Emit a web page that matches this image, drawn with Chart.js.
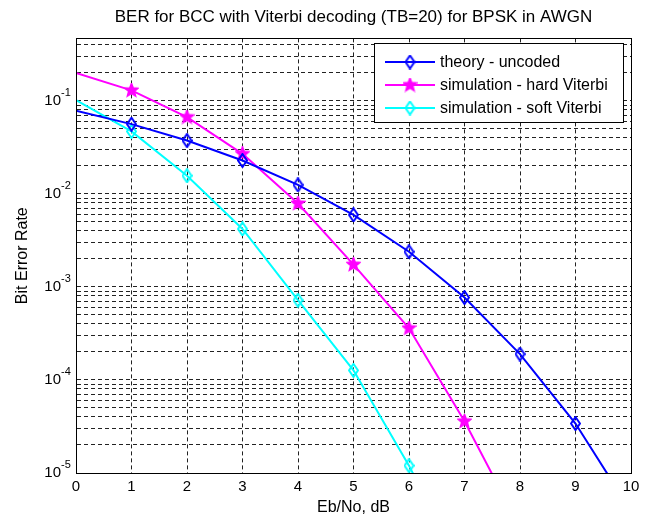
<!DOCTYPE html>
<html>
<head>
<meta charset="utf-8">
<title>BER for BCC with Viterbi decoding</title>
<script src="https://cdn.jsdelivr.net/npm/chart.js@4"></script>
<style>
  html, body { margin: 0; padding: 0; background: #fff; }
</style>
</head>
<body>
<canvas id="ber" width="648" height="517"></canvas>
<script>
  // values
  const ebno = [0, 1, 2, 3, 4, 5, 6, 7, 8, 9, 10];
  const berTheory = [0.0786, 0.0563, 0.0375, 0.0229, 0.0125, 0.00595, 0.00239, 0.00077, 0.00019, 0.000034, 0.0000039];
  const berHard = [0.2, 0.13, 0.067, 0.027, 0.0079, 0.00174, 0.00036, 0.000036, 0.0000026];
  const berSoft = [0.102, 0.047, 0.0157, 0.0042, 0.00072, 0.000127, 0.000012, 0.0000008];
  const seriesNames = ["theory - uncoded", "simulation - hard Viterbi", "simulation - soft Viterbi"];
  const yDecades = [-5, -4, -3, -2, -1];
  const yMantissas = [1, 2, 3, 4, 5, 6, 7, 8, 9];
  const yMin = 1e-5;
  const yMax = 0.47;

  const FONT = '"Liberation Sans", Arial, sans-serif';
  const BLUE = "#0000ff";
  const MAGENTA = "#ff00ff";
  const CYAN = "#00ffff";

  Chart.defaults.color = "#000";
  Chart.defaults.font.family = FONT;

  function diamond(color) {
    const c = document.createElement("canvas");
    c.width = 11;
    c.height = 15;
    const g = c.getContext("2d");
    g.strokeStyle = color;
    g.lineWidth = 2;
    g.beginPath();
    g.moveTo(5.5, 1);
    g.lineTo(10, 7.5);
    g.lineTo(5.5, 14);
    g.lineTo(1, 7.5);
    g.closePath();
    g.stroke();
    return c;
  }

  function star(color) {
    const c = document.createElement("canvas");
    c.width = 15;
    c.height = 15;
    const g = c.getContext("2d");
    g.fillStyle = color;
    g.strokeStyle = color;
    g.lineWidth = 1.5;
    g.beginPath();
    for (let i = 0; i < 10; i++) {
      const r = i % 2 ? 3 : 7;
      const a = -Math.PI / 2 + (i * Math.PI) / 5;
      g.lineTo(7.5 + r * Math.cos(a), 7.5 + r * Math.sin(a));
    }
    g.closePath();
    g.fill();
    g.stroke();
    return c;
  }

  const markers = [diamond(BLUE), star(MAGENTA), diamond(CYAN)];
  const colors = [BLUE, MAGENTA, CYAN];

  function pts(vals) {
    return vals.map(function (v, i) {
      return { x: ebno[i], y: v };
    });
  }

  function series(idx, vals) {
    return {
      label: seriesNames[idx],
      data: pts(vals),
      borderColor: colors[idx],
      backgroundColor: colors[idx],
      borderWidth: 2,
      pointStyle: markers[idx],
      pointRadius: function (c) {
        return c.dataIndex === 0 ? 0 : 5;
      },
      tension: 0,
      fill: false,
    };
  }

  const frame = {
    id: "frame",
    afterDatasetsDraw(chart) {
      const a = chart.chartArea;
      const ctx = chart.ctx;
      ctx.save();
      ctx.strokeStyle = "#000";
      ctx.lineWidth = 1;
      ctx.setLineDash([]);
      ctx.strokeRect(Math.round(a.left) + 0.5, Math.round(a.top) + 0.5,
        Math.round(a.right) - Math.round(a.left), Math.round(a.bottom) - Math.round(a.top));
      ctx.restore();
    },
  };

  const yPowerLabels = {
    id: "yPowerLabels",
    afterDraw(chart) {
      const ctx = chart.ctx;
      const ys = chart.scales.y;
      ctx.save();
      ctx.fillStyle = "#000";
      ctx.textBaseline = "middle";
      for (const d of yDecades) {
        const py = ys.getPixelForValue(Math.pow(10, d));
        ctx.font = "15px " + FONT;
        ctx.textAlign = "right";
        ctx.fillText("10", 61, py);
        ctx.font = "11px " + FONT;
        ctx.textAlign = "left";
        ctx.fillText(String(d), 61, py - 8);
      }
      ctx.restore();
    },
  };

  const boxLegend = {
    id: "boxLegend",
    afterDraw(chart) {
      const ctx = chart.ctx;
      const bx = 374, by = 43, bw = 249, bh = 79;
      const rows = [62, 85, 108];
      ctx.save();
      ctx.fillStyle = "#fff";
      ctx.fillRect(bx, by, bw, bh);
      ctx.strokeStyle = "#000";
      ctx.lineWidth = 1;
      ctx.strokeRect(bx + 0.5, by + 0.5, bw, bh);
      ctx.font = "16px " + FONT;
      ctx.textBaseline = "middle";
      ctx.textAlign = "left";
      rows.forEach(function (ry, i) {
        ctx.strokeStyle = colors[i];
        ctx.lineWidth = 2;
        ctx.beginPath();
        ctx.moveTo(385, ry);
        ctx.lineTo(435, ry);
        ctx.stroke();
        const m = markers[i];
        ctx.drawImage(m, 410 - m.width / 2, ry - m.height / 2);
        ctx.fillStyle = "#000";
        ctx.fillText(seriesNames[i], 440, ry + 1);
      });
      ctx.restore();
    },
  };

  new Chart(document.getElementById("ber"), {
    type: "line",
    data: {
      datasets: [series(0, berTheory), series(1, berHard), series(2, berSoft)],
    },
    plugins: [frame, yPowerLabels, boxLegend],
    options: {
      responsive: false,
      animation: false,
      layout: { padding: { left: 0, right: 17, top: 0, bottom: 0 } },
      plugins: {
        legend: { display: false },
        tooltip: { enabled: false },
        title: {
          display: true,
          fullSize: false,
          text: "BER for BCC with Viterbi decoding (TB=20) for BPSK in AWGN",
          font: { size: 17, weight: "normal" },
          color: "#000",
          padding: { top: 7, bottom: 11 },
        },
      },
      scales: {
        x: {
          type: "linear",
          min: 0,
          max: 10,
          ticks: { stepSize: 1, font: { size: 15 }, padding: 5, color: "#000" },
          grid: { color: "#222", drawTicks: false },
          border: { display: true, color: "#000", dash: [4, 3] },
          title: {
            display: true,
            text: "Eb/No, dB",
            font: { size: 16 },
            padding: { top: 0, bottom: 0 },
          },
          afterFit: function (s) {
            s.height = 44;
          },
        },
        y: {
          type: "logarithmic",
          min: yMin,
          max: yMax,
          ticks: { display: false },
          grid: { color: "#222", drawTicks: false },
          border: { display: true, color: "#000", dash: [4, 3] },
          title: {
            display: true,
            text: "Bit Error Rate",
            font: { size: 16 },
            padding: { top: 13, bottom: 0 },
          },
          afterBuildTicks: function (s) {
            const t = [];
            for (const d of yDecades) {
              for (const m of yMantissas) {
                const v = m * Math.pow(10, d);
                if (v <= yMax + 1e-12) t.push({ value: v, major: m === 1 });
              }
            }
            s.ticks = t;
          },
          afterFit: function (s) {
            s.width = 76;
          },
        },
      },
    },
  });
</script>
</body>
</html>
